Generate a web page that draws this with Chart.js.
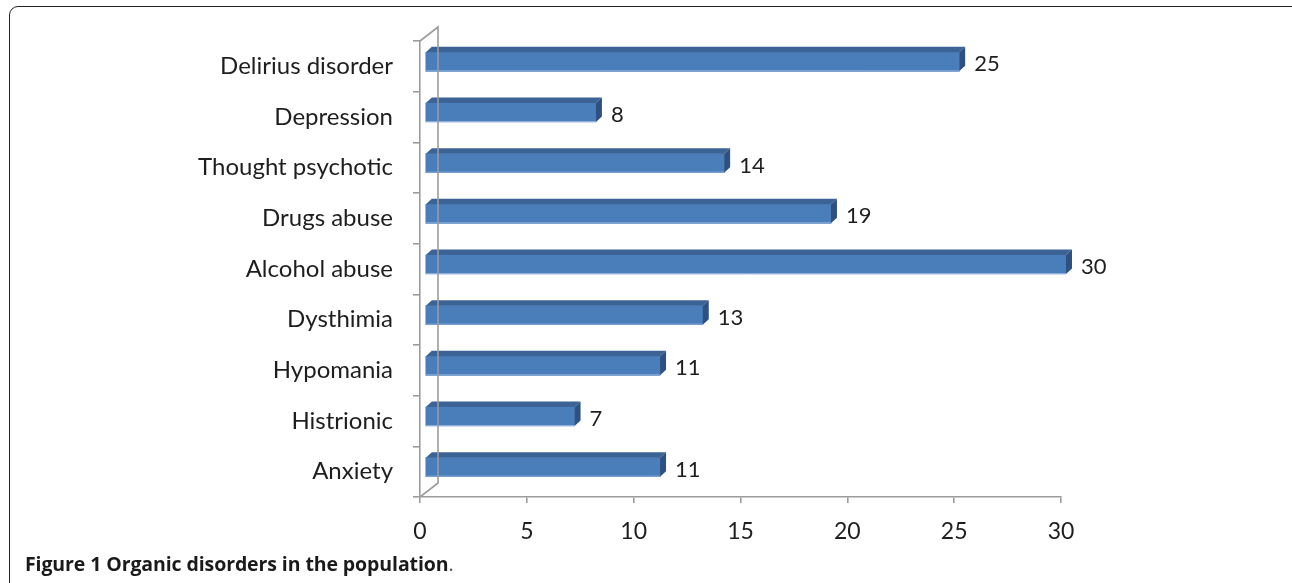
<!DOCTYPE html>
<html>
<head>
<meta charset="utf-8">
<script src="https://cdn.jsdelivr.net/npm/chart.js@4.4.1/dist/chart.umd.min.js"></script>
<style>
  html, body { margin: 0; padding: 0; background: #fff; }
  #wrap { position: relative; width: 1292px; height: 583px; overflow: hidden; }
  #frame {
    position: absolute; left: 9px; top: 6px; width: 1300px; height: 590px;
    border: 1.5px solid #222; border-radius: 9px; box-sizing: border-box;
  }
  #chart { position: absolute; left: 0; top: 0; }
  #caption {
    position: absolute; left: 25px; top: 550px;
    font-family: "Open Sans", sans-serif; font-size: 19.5px; color: #1a1a1a;
    white-space: nowrap; letter-spacing: -0.1px;
  }
  #caption b { font-weight: 700; }
  #caption span { font-weight: 400; color: #555; }
</style>
</head>
<body>
<div id="wrap">
  <div id="frame"></div>
  <canvas id="chart" width="1292" height="583"></canvas>
  <div id="caption"><b>Figure 1 Organic disorders in the population</b><span>.</span></div>
</div>
<script>
// values, top to bottom
const categories = ['Delirius disorder', 'Depression', 'Thought psychotic', 'Drugs abuse',
    'Alcohol abuse', 'Dysthimia', 'Hypomania', 'Histrionic', 'Anxiety'];
const counts = [25, 8, 14, 19, 30, 13, 11, 7, 11];
const xTicks = [0, 5, 10, 15, 20, 25, 30];

const FONT = 'Lato, sans-serif';
const FRONT = '#4a7ebb';
const TOP = '#3b6395';
const SIDE = '#2d5282';
const AXIS = '#9c9c9c';

// fake Excel 3D look: shifted front face, top + side faces, back wall edge
const bar3d = {
    id: 'bar3d',
    beforeDatasetsDraw(chart) {
        chart.ctx.save();
        chart.ctx.translate(5, -4.5);
    },
    afterDatasetsDraw(chart) {
        const ctx = chart.ctx;
        const dx = 6, dy = -5.5;
        chart.getDatasetMeta(0).data.forEach((bar, i) => {
            const x0 = bar.base, x1 = bar.x;
            const t = bar.y - bar.height / 2, b = bar.y + bar.height / 2;
            ctx.fillStyle = TOP;
            ctx.beginPath();
            ctx.moveTo(x0, t); ctx.lineTo(x0 + dx, t + dy);
            ctx.lineTo(x1 + dx, t + dy); ctx.lineTo(x1, t);
            ctx.closePath(); ctx.fill();
            ctx.fillStyle = SIDE;
            ctx.beginPath();
            ctx.moveTo(x1, t); ctx.lineTo(x1 + dx, t + dy);
            ctx.lineTo(x1 + dx, b + dy); ctx.lineTo(x1, b);
            ctx.closePath(); ctx.fill();
            // light lower edge
            ctx.strokeStyle = '#8fb0da';
            ctx.lineWidth = 1;
            ctx.beginPath();
            ctx.moveTo(x0, b - 0.5); ctx.lineTo(x1, b - 0.5);
            ctx.stroke();
            // value label
            ctx.fillStyle = '#1e1e1e';
            ctx.font = '22px ' + FONT;
            ctx.textBaseline = 'middle';
            ctx.textAlign = 'left';
            ctx.fillText(String(counts[i]), x1 + dx + 9, bar.y + 2.5);
        });
        ctx.restore();

        // back wall edges
        const a = chart.chartArea;
        const wx = 18, wy = -14;
        ctx.save();
        ctx.strokeStyle = AXIS;
        ctx.lineWidth = 1.6;
        ctx.beginPath();
        ctx.moveTo(a.left, a.top); ctx.lineTo(a.left + wx, a.top + wy);
        ctx.lineTo(a.left + wx, a.bottom + wy); ctx.lineTo(a.left, a.bottom);
        ctx.stroke();
        ctx.restore();
    }
};

new Chart(document.getElementById('chart'), {
    type: 'bar',
    data: {
        labels: categories,
        datasets: [{
            data: counts,
            backgroundColor: FRONT,
            borderWidth: 0,
            barThickness: 19
        }]
    },
    options: {
        indexAxis: 'y',
        responsive: false,
        animation: false,
        layout: { padding: { top: 41, right: 231, bottom: 0, left: 0 } },
        plugins: { legend: { display: false }, tooltip: { enabled: false } },
        scales: {
            x: {
                min: 0, max: 30,
                afterFit: s => { s.height = 86; },
                afterBuildTicks: s => { s.ticks = xTicks.map(v => ({ value: v })); },
                grid: { drawOnChartArea: false, tickLength: 6, color: AXIS, lineWidth: 1.6 },
                border: { display: true, color: AXIS, width: 1.6 },
                ticks: { padding: 15, color: '#1e1e1e', font: { family: FONT, size: 23 } }
            },
            y: {
                afterFit: s => { s.width = 420; },
                grid: { offset: true, drawOnChartArea: false, tickLength: 7, color: AXIS, lineWidth: 1.6 },
                border: { display: true, color: AXIS, width: 1.6 },
                ticks: { padding: 20, color: '#1e1e1e', font: { family: FONT, size: 24 } }
            }
        }
    },
    plugins: [bar3d]
});
</script>
</body>
</html>
